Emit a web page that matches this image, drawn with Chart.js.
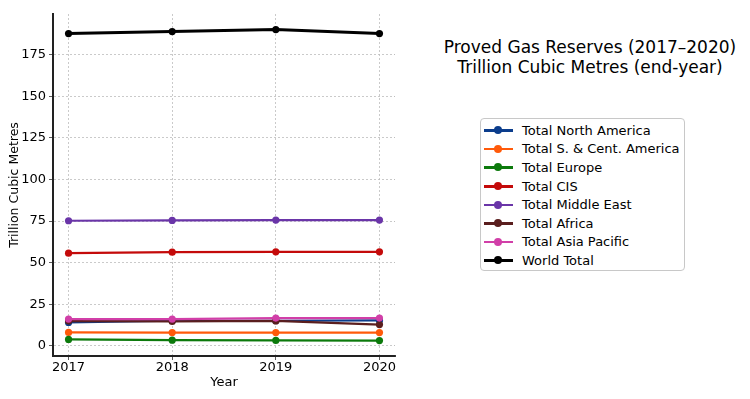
<!DOCTYPE html>
<html>
<head>
<meta charset="utf-8">
<script src="https://cdn.jsdelivr.net/npm/chart.js@4"></script>
<style>
  html, body { margin: 0; padding: 0; background: #fff; }
  #wrap { position: relative; width: 750px; height: 399px; font-family: "DejaVu Sans", sans-serif; }
  #chartBox { position: absolute; left: 0; top: 0; width: 420px; height: 399px; }
  #title { position: absolute; left: 430px; width: 320px; top: 38px; text-align: center; font-size: 17px; line-height: 19.5px; color: #000; }
  #legend { position: absolute; left: 480px; top: 118px; width: 205px; height: 153px; border: 1.5px solid #c8c8c8; border-radius: 4px; box-sizing: border-box; padding-top: 2px; }
  .row { height: 18.6px; display: flex; align-items: center; font-size: 13px; color: #000; }
  .swatch { position: relative; width: 29px; height: 10px; margin-left: 3px; margin-right: 9px; }
  .swatch .ln { position: absolute; left: 0; right: 0; top: 4px; height: 2.5px; }
  .swatch .dt { position: absolute; left: 10px; top: 1px; width: 8px; height: 8px; border-radius: 50%; }
</style>
</head>
<body>
<div id="wrap">
  <div id="chartBox"><canvas id="chart" width="420" height="399"></canvas></div>
  <div id="title">Proved Gas Reserves (2017–2020)<br>Trillion Cubic Metres (end-year)</div>
  <div id="legend"></div>
</div>
<script>
"use strict";

const years = [2017, 2018, 2019, 2020];
const seriesNames = [
  "Total North America",
  "Total S. & Cent. America",
  "Total Europe",
  "Total CIS",
  "Total Middle East",
  "Total Africa",
  "Total Asia Pacific",
  "World Total",
];
const northAmerica = [14.0, 15.0, 15.0, 15.2];
const southCentAmerica = [8.0, 7.9, 7.9, 7.9];
const europe = [3.8, 3.3, 3.2, 3.1];
const cis = [55.7, 56.3, 56.5, 56.5];
const middleEast = [75.2, 75.4, 75.6, 75.6];
const africa = [14.8, 14.6, 14.9, 12.7];
const asiaPacific = [16.0, 16.0, 16.6, 16.6];
const worldTotal = [187.8, 189.0, 190.2, 187.8];
const yTicks = [0, 25, 50, 75, 100, 125, 150, 175];

const seriesValues = [northAmerica, southCentAmerica, europe, cis, middleEast, africa, asiaPacific, worldTotal];
const colors = ["#0b3d8c", "#ff5a0a", "#0c7a0c", "#c40a0a", "#6a35a8", "#5a1e1e", "#d13fa8", "#000000"];

document.addEventListener("DOMContentLoaded", function () {
  const canvasElement = document.getElementById("chart");
  const font = { family: "DejaVu Sans", size: 13 };

  const datasets = seriesNames.map((name, i) => ({
    label: name,
    data: years.map((year, j) => ({ x: year, y: seriesValues[i][j] })),
    borderColor: colors[i],
    backgroundColor: colors[i],
    borderWidth: i === 7 ? 3 : 2.2,
    pointRadius: 3.6,
    pointHoverRadius: 3.6,
    pointBorderWidth: 0,
    tension: 0,
    order: seriesNames.length - i,
  }));

  new Chart(canvasElement, {
    type: "line",
    data: { datasets: datasets },
    options: {
      responsive: false,
      animation: false,
      layout: { padding: { left: 0, top: 14, right: 25, bottom: 0 } },
      plugins: { legend: { display: false }, tooltip: { enabled: false } },
      scales: {
        x: {
          type: "linear",
          min: 2016.85,
          max: 2020.15,
          afterFit: (scale) => { scale.height = 43; },
          ticks: {
            stepSize: 1,
            includeBounds: false,
            color: "#000",
            font: font,
            padding: 0,
            maxRotation: 0,
            callback: (v) => String(v),
          },
          grid: { color: "#bdbdbd", lineWidth: 0.8, tickLength: 4, tickColor: "#333" },
          border: { display: true, color: "#222", width: 2, dash: [2, 2] },
          title: { display: true, text: "Year", color: "#000", font: { family: "DejaVu Sans", size: 13 }, padding: { top: 0, bottom: 9 } },
        },
        y: {
          min: -6.2,
          max: 199.6,
          afterFit: (scale) => { scale.width = 53; },
          afterBuildTicks: (scale) => { scale.ticks = yTicks.map(v => ({ value: v })); },
          ticks: { color: "#000", font: font, padding: 3 },
          grid: { color: "#bdbdbd", lineWidth: 0.8, tickLength: 4, tickColor: "#333" },
          border: { display: true, color: "#222", width: 2, dash: [2, 2] },
          title: { display: true, text: "Trillion Cubic Metres", color: "#000", font: { family: "DejaVu Sans", size: 12.5 }, padding: { top: 7, bottom: 4 } },
        },
      },
    },
  });

  const legend = document.getElementById("legend");
  seriesNames.forEach((name, i) => {
    const row = document.createElement("div");
    row.className = "row";
    row.innerHTML = `<span class="swatch"><span class="ln" style="background:${colors[i]};${i === 7 ? "height:3px;" : ""}"></span><span class="dt" style="background:${colors[i]}"></span></span><span>${name}</span>`;
    legend.appendChild(row);
  });
});
</script>
</body>
</html>
